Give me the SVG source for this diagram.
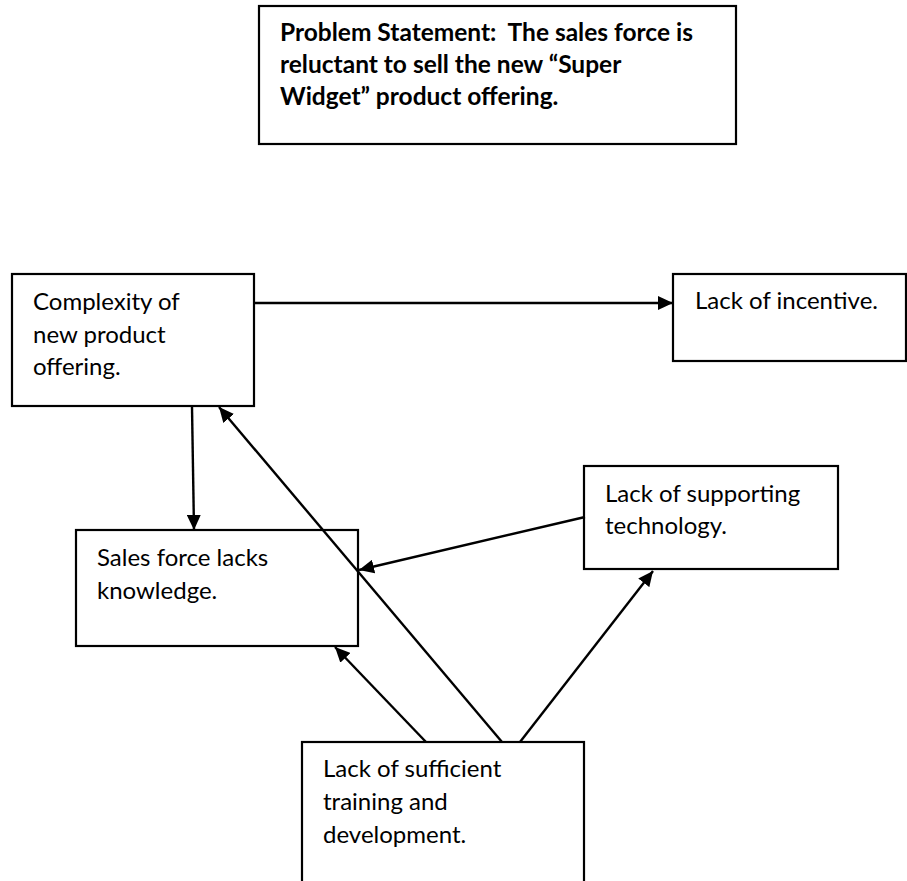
<svg xmlns="http://www.w3.org/2000/svg" width="907" height="881" viewBox="0 0 907 881">
<style>
.box{fill:#fff;stroke:#000;stroke-width:2.2}
.t{font-family:Lato,"Open Sans","Liberation Sans",sans-serif;font-size:24px;fill:#000}
.b{font-weight:bold;font-size:24.5px;white-space:pre}
.c{stroke:#000;stroke-width:2.4;fill:none;marker-end:url(#ah)}
</style>
<defs>
<marker id="ah" markerUnits="userSpaceOnUse" markerWidth="16" markerHeight="14" refX="15" refY="7" orient="auto">
<path d="M0,0 L15,7 L0,14 z" fill="#000"/>
</marker>
</defs>
<rect width="907" height="881" fill="#fff"/>
<g id="problem">
<rect class="box" x="259" y="6" width="477" height="138"/>
<text class="t b" x="280" y="41" xml:space="preserve">Problem Statement:  The sales force is</text>
<text class="t b" x="280" y="73">reluctant to sell the new “Super</text>
<text class="t b" x="280" y="105">Widget” product offering.</text>
</g>
<g id="complexity">
<rect class="box" x="12" y="274" width="242" height="132"/>
<text class="t" x="33" y="310">Complexity of</text>
<text class="t" x="33" y="343">new product</text>
<text class="t" x="33" y="375">offering.</text>
</g>
<g id="incentive">
<rect class="box" x="673" y="274" width="233" height="87"/>
<text class="t" x="695" y="309">Lack of incentive.</text>
</g>
<g id="knowledge">
<rect class="box" x="76" y="530" width="282" height="116"/>
<text class="t" x="97" y="566">Sales force lacks</text>
<text class="t" x="97" y="599">knowledge.</text>
</g>
<g id="technology">
<rect class="box" x="584" y="466" width="254" height="103"/>
<text class="t" x="605" y="502">Lack of supporting</text>
<text class="t" x="605" y="534">technology.</text>
</g>
<g id="training">
<rect class="box" x="302" y="742" width="282" height="170"/>
<text class="t" x="323" y="777">Lack of sufficient</text>
<text class="t" x="323" y="810">training and</text>
<text class="t" x="323" y="843">development.</text>
</g>
<g id="connectors">
<line class="c" x1="255" y1="303" x2="673" y2="303"/>
<line class="c" x1="192" y1="407" x2="194" y2="530"/>
<line class="c" x1="502" y1="742" x2="219" y2="407"/>
<line class="c" x1="585" y1="517" x2="359" y2="570"/>
<line class="c" x1="426" y1="742" x2="335" y2="647"/>
<line class="c" x1="520" y1="742" x2="653" y2="571"/>
</g>
</svg>
